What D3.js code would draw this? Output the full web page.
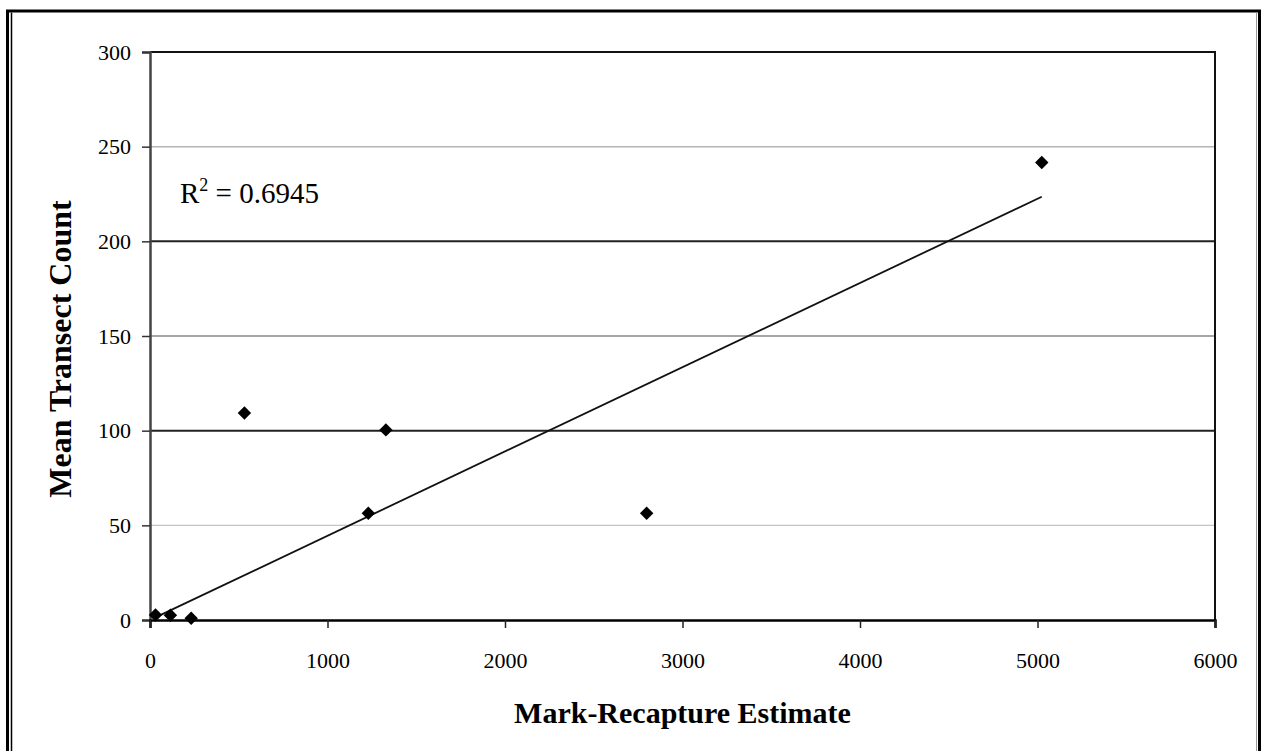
<!DOCTYPE html>
<html>
<head>
<meta charset="utf-8">
<script src="https://cdn.jsdelivr.net/npm/d3@7"></script>
<style>
  body { margin: 0; background: #fff; }
  text { font-family: "Liberation Serif", "Times New Roman", serif; fill: #000; }
</style>
</head>
<body>
<svg id="chart"></svg>
<script>
// data
const markRecapture = [31, 115, 232, 532, 1230, 1329, 2798, 5024];
const transectCount = [2.6, 2.5, 0.9, 109.3, 56.4, 100.4, 56.4, 241.6];
const xTicks = [0, 1000, 2000, 3000, 4000, 5000, 6000];
const yTicks = [0, 50, 100, 150, 200, 250, 300];
const rSquaredLabel = "0.6945";

const width = 1263, height = 751;
const margin = { top: 52, right: 48, bottom: 131, left: 150 };

const svg = d3.select("#chart")
  .attr("width", width)
  .attr("height", height);

// outer frame (double line on the left)
svg.append("path")
  .attr("d", "M7.5,800 V11 H1259.5 V800")
  .attr("fill", "none")
  .attr("stroke", "#000")
  .attr("stroke-width", 3);
svg.append("line")
  .attr("x1", 11.5).attr("x2", 11.5)
  .attr("y1", 12.5).attr("y2", 800)
  .attr("stroke", "#000")
  .attr("stroke-width", 1.5);
svg.append("line")
  .attr("x1", 1256.5).attr("x2", 1256.5)
  .attr("y1", 12.5).attr("y2", 800)
  .attr("stroke", "#999")
  .attr("stroke-width", 1);

const xScale = d3.scaleLinear()
  .domain([0, 6000])
  .range([margin.left, width - margin.right]);
const yScale = d3.scaleLinear()
  .domain([0, 300])
  .range([height - margin.bottom, margin.top]);

// gridlines
const gridStyle = {
  50: { color: "#c4c4c4", w: 1.2 },
  100: { color: "#222", w: 2 },
  150: { color: "#888", w: 1.5 },
  200: { color: "#222", w: 2 },
  250: { color: "#b4b4b4", w: 1.5 }
};
svg.append("g")
  .selectAll("line")
  .data(yTicks.filter(d => d > 0 && d < 300))
  .join("line")
  .attr("x1", xScale(0))
  .attr("x2", xScale(6000))
  .attr("y1", d => yScale(d))
  .attr("y2", d => yScale(d))
  .attr("stroke", d => gridStyle[d].color)
  .attr("stroke-width", d => gridStyle[d].w);

// top and right edges of the plot area
svg.append("path")
  .attr("d", "M" + xScale(0) + "," + yScale(300) + " H" + xScale(6000) + " V" + yScale(0))
  .attr("fill", "none")
  .attr("stroke", "#111")
  .attr("stroke-width", 2);

// y axis
const yAxis = svg.append("g")
  .attr("transform", "translate(" + xScale(0) + ",0)")
  .call(d3.axisLeft(yScale).tickValues(yTicks).tickSize(8).tickPadding(11));
yAxis.select(".domain").attr("stroke", "#444").attr("stroke-width", 2.5);
yAxis.selectAll(".tick line").attr("stroke", "#333").attr("stroke-width", 1.5);
yAxis.selectAll(".tick text")
  .style("font-size", "22px")
  .style("font-family", "Liberation Serif, serif")
  .attr("fill", "#111");

// x axis
const xAxis = svg.append("g")
  .attr("transform", "translate(0," + yScale(0) + ")")
  .call(d3.axisBottom(xScale).tickValues(xTicks).tickFormat(d3.format("d")).tickSize(8).tickPadding(24));
xAxis.select(".domain").attr("stroke", "#000").attr("stroke-width", 2.5);
xAxis.selectAll(".tick line").attr("stroke", "#222").attr("stroke-width", 1.5);
xAxis.selectAll(".tick text")
  .style("font-size", "22px")
  .style("font-family", "Liberation Serif, serif")
  .attr("fill", "#111");

// linear trendline through the origin (least squares)
const points = markRecapture.map((x, i) => ({ x: x, y: transectCount[i] }));
const slope = d3.sum(points, p => p.x * p.y) / d3.sum(points, p => p.x * p.x);
const xExtent = d3.extent(markRecapture);
svg.append("line")
  .attr("x1", xScale(xExtent[0]))
  .attr("y1", yScale(slope * xExtent[0]))
  .attr("x2", xScale(xExtent[1]))
  .attr("y2", yScale(slope * xExtent[1]))
  .attr("stroke", "#111")
  .attr("stroke-width", 1.8);

// diamond markers
svg.append("g")
  .selectAll("path")
  .data(points)
  .join("path")
  .attr("d", d3.symbol(d3.symbolSquare, 90))
  .attr("transform", d => "translate(" + xScale(d.x) + "," + yScale(d.y) + ") rotate(45)")
  .attr("fill", "#000");

// R squared label
const rLabel = svg.append("text")
  .attr("x", 180)
  .attr("y", 203)
  .style("font-size", "29px");
rLabel.append("tspan").text("R");
rLabel.append("tspan")
  .attr("dy", -12)
  .style("font-size", "18px")
  .text("2");
rLabel.append("tspan")
  .attr("dy", 12)
  .text(" = " + rSquaredLabel);

// axis titles
svg.append("text")
  .attr("x", (xScale(0) + xScale(6000)) / 2)
  .attr("y", 723)
  .attr("text-anchor", "middle")
  .style("font-size", "30px")
  .style("font-weight", "bold")
  .text("Mark-Recapture Estimate");

svg.append("text")
  .attr("transform", "translate(71," + 349 + ") rotate(-90)")
  .attr("text-anchor", "middle")
  .style("font-size", "32px")
  .style("font-weight", "bold")
  .text("Mean Transect Count");
</script>
</body>
</html>
